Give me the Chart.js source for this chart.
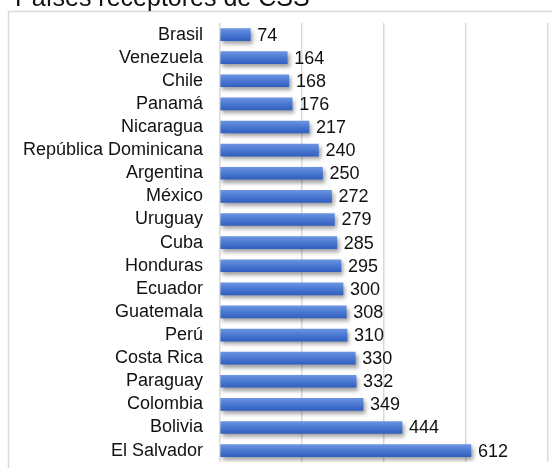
<!DOCTYPE html>
<html>
<head>
<meta charset="utf-8">
<script src="https://cdn.jsdelivr.net/npm/chart.js@4/dist/chart.umd.min.js"></script>
<style>
  html, body { margin: 0; padding: 0; background: #fff; overflow: hidden; }
  #wrap { position: absolute; left: 0; top: -13px; width: 552px; height: 503px; }
</style>
</head>
<body>
<div id="wrap"><canvas id="c" width="552" height="503"></canvas></div>
<script>
const chartTitle = "Países receptores de CSS";
const countries = ["Brasil","Venezuela","Chile","Panamá","Nicaragua","República Dominicana","Argentina","México","Uruguay","Cuba","Honduras","Ecuador","Guatemala","Perú","Costa Rica","Paraguay","Colombia","Bolivia","El Salvador"];
const projects = [74,164,168,176,217,240,250,272,279,285,295,300,308,310,330,332,349,444,612];
const axisMax = 800;
const axisStep = 200;

const FONT = '"Liberation Sans", Arial, sans-serif';

const framePlugin = {
  id: 'frame',
  beforeDraw(chart) {
    const ctx = chart.ctx;
    ctx.save();
    ctx.fillStyle = '#ffffff';
    ctx.fillRect(0, 0, chart.width, chart.height);
    ctx.strokeStyle = '#d9d9d9';
    ctx.lineWidth = 1.5;
    ctx.strokeRect(8.5, 24.5, 700, 700);
    ctx.restore();
  }
};

const shadowPlugin = {
  id: 'barShadow',
  beforeDatasetsDraw(chart) {
    const ctx = chart.ctx;
    ctx.save();
    ctx.shadowColor = 'rgba(0,0,0,0.38)';
    ctx.shadowBlur = 4;
    ctx.shadowOffsetX = 2;
    ctx.shadowOffsetY = 3;
  },
  afterDatasetsDraw(chart) {
    chart.ctx.restore();
  }
};

const valueLabels = {
  id: 'valueLabels',
  afterDatasetsDraw(chart) {
    const ctx = chart.ctx;
    const meta = chart.getDatasetMeta(0);
    ctx.save();
    ctx.font = '18px ' + FONT;
    ctx.fillStyle = '#111111';
    ctx.textAlign = 'left';
    ctx.textBaseline = 'middle';
    meta.data.forEach((bar, i) => {
      ctx.fillText(String(chart.data.datasets[0].data[i]), bar.x + 7, bar.y + 1);
    });
    ctx.restore();
  }
};

function barGradient(context) {
  const chart = context.chart;
  const yScale = chart.scales.y;
  if (!yScale || context.dataIndex === undefined) return '#4472c4';
  const yc = yScale.getPixelForValue(context.dataIndex);
  if (!isFinite(yc)) return '#4472c4';
  const g = chart.ctx.createLinearGradient(0, yc - 6, 0, yc + 6);
  g.addColorStop(0, '#6b93e0');
  g.addColorStop(0.5, '#4a78d2');
  g.addColorStop(1, '#3160c0');
  return g;
}

new Chart(document.getElementById('c'), {
  type: 'bar',
  data: {
    labels: countries,
    datasets: [{
      data: projects,
      backgroundColor: barGradient,
      borderWidth: 0,
      barThickness: 12
    }]
  },
  options: {
    indexAxis: 'y',
    responsive: false,
    animation: false,
    layout: { padding: { left: 15, right: 4, top: 0, bottom: 6 } },
    plugins: {
      legend: { display: false },
      tooltip: { enabled: false },
      title: {
        display: true,
        text: chartTitle,
        align: 'start',
        color: '#111111',
        font: { size: 25, family: FONT, weight: 'normal', lineHeight: 1 },
        padding: { top: 0, bottom: 11 }
      }
    },
    scales: {
      x: {
        min: 0,
        max: axisMax,
        ticks: { display: false, stepSize: axisStep },
        grid: { color: '#d9d9d9', lineWidth: 1.5, drawTicks: false },
        border: { display: false },
        afterFit(scale) { scale.height = 0; }
      },
      y: {
        ticks: {
          color: '#111111',
          font: { size: 18, family: FONT },
          padding: 17,
          autoSkip: false
        },
        grid: { display: false, drawTicks: false },
        border: { display: false },
        afterFit(scale) { scale.width = 205; }
      }
    }
  },
  plugins: [framePlugin, shadowPlugin, valueLabels]
});
</script>
</body>
</html>
